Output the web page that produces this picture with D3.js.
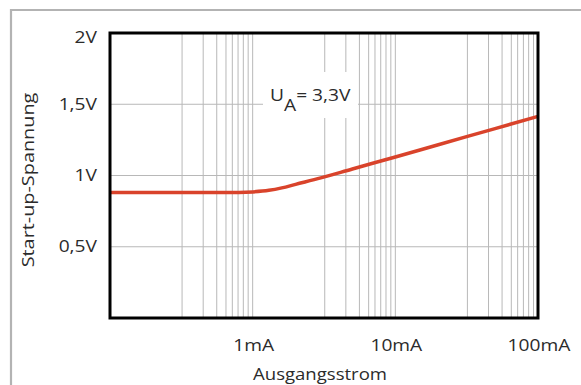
<!DOCTYPE html>
<html><head><meta charset="utf-8">
<script src="https://cdn.jsdelivr.net/npm/d3@7"></script>
<style>
body{margin:0;background:#fff}
text{font-family:"Open Sans",sans-serif;fill:#2b2b2b;font-size:16px}
</style>
</head><body><svg id="c" width="581" height="385"></svg>
<script>
// Data (current in mA, voltage in V)
const currents = [0.1, 0.3, 0.6, 0.8, 1, 1.3, 1.6, 2, 3, 5, 10, 20, 50, 100];
const voltages = [0.88, 0.88, 0.88, 0.881, 0.885, 0.896, 0.913, 0.938, 0.983, 1.046, 1.13, 1.216, 1.329, 1.415];
const yTicks = [0.5, 1, 1.5, 2];
const yTickLabels = ["0,5V", "1V", "1,5V", "2V"];
const xTicks = [1, 10, 100];
const xTickLabels = ["1mA", "10mA", "100mA"];
const xGrid = [0.32,0.45,0.56,0.65,0.72,0.79,0.86,0.93,1,
               3.2,4.5,5.6,6.5,7.2,7.9,8.6,9.3,10,
               32,45,56,65,72,79,86,93];
const xTitle = "Ausgangsstrom";
const yTitle = "Start-up-Spannung";
const annoMain = "U", annoSub = "A", annoRest = "= 3,3V";

const svg = d3.select("#c");
const SX = 1.2;
const x = d3.scaleLog().domain([0.1, 100]).range([110, 538]);
const y = d3.scaleLinear().domain([0, 2]).range([318, 33]);

// outer frame
svg.append("line").attr("x1",10).attr("x2",581).attr("y1",10).attr("y2",10)
  .attr("stroke","#b3b3b3").attr("stroke-width",2.2);
svg.append("line").attr("x1",11).attr("x2",11).attr("y1",9).attr("y2",385)
  .attr("stroke","#b3b3b3").attr("stroke-width",2.2);

// grid
svg.append("g").selectAll("line").data(xGrid).join("line")
  .attr("x1",d=>x(d)).attr("x2",d=>x(d)).attr("y1",y(2)).attr("y2",y(0))
  .attr("stroke","#b8b8b8").attr("stroke-width",1);
svg.append("g").selectAll("line").data(yTicks.filter(v=>v<2)).join("line")
  .attr("x1",x(0.1)).attr("x2",x(100)).attr("y1",d=>y(d)).attr("y2",d=>y(d))
  .attr("stroke","#b8b8b8").attr("stroke-width",1);

// annotation background box
svg.append("rect").attr("x",263).attr("y",72).attr("width",95).attr("height",46).attr("fill","#fff");
const ag = svg.append("g").attr("transform","translate(270,100.7)");
const at = ag.append("text").attr("transform",`scale(${SX},1)`);
at.append("tspan").text(annoMain);
at.append("tspan").attr("dy",10).text(annoSub);
at.append("tspan").attr("dy",-10).text(annoRest);

// curve
const line = d3.line().x((d,i)=>x(currents[i])).y(d=>y(d)).curve(d3.curveMonotoneX);
svg.append("path").datum(voltages).attr("d",line)
  .attr("fill","none").attr("stroke","#d9432b").attr("stroke-width",3.5);

// plot border
svg.append("rect").attr("x",x(0.1)).attr("y",y(2)).attr("width",x(100)-x(0.1)).attr("height",y(0)-y(2))
  .attr("fill","none").attr("stroke","#000").attr("stroke-width",3);

// y tick labels
yTicks.forEach((v,i)=>{
  const g = svg.append("g").attr("transform",`translate(97,${Math.max(y(v),37.5)+5.7})`);
  g.append("text").attr("text-anchor","end").attr("transform",`scale(${SX},1)`).text(yTickLabels[i]);
});
// x tick labels
xTicks.forEach((v,i)=>{
  const g = svg.append("g").attr("transform",`translate(${x(v)+1},351)`);
  g.append("text").attr("text-anchor","middle").attr("transform",`scale(${SX},1)`).text(xTickLabels[i]);
});
// titles
svg.append("g").attr("transform","translate(320,380)")
  .append("text").attr("text-anchor","middle").attr("transform",`scale(1.16,1)`).text(xTitle);
svg.append("g").attr("transform","translate(34,180) rotate(-90)")
  .append("text").attr("text-anchor","middle").attr("transform",`scale(1.24,1)`).text(yTitle);
</script>
</body></html>
